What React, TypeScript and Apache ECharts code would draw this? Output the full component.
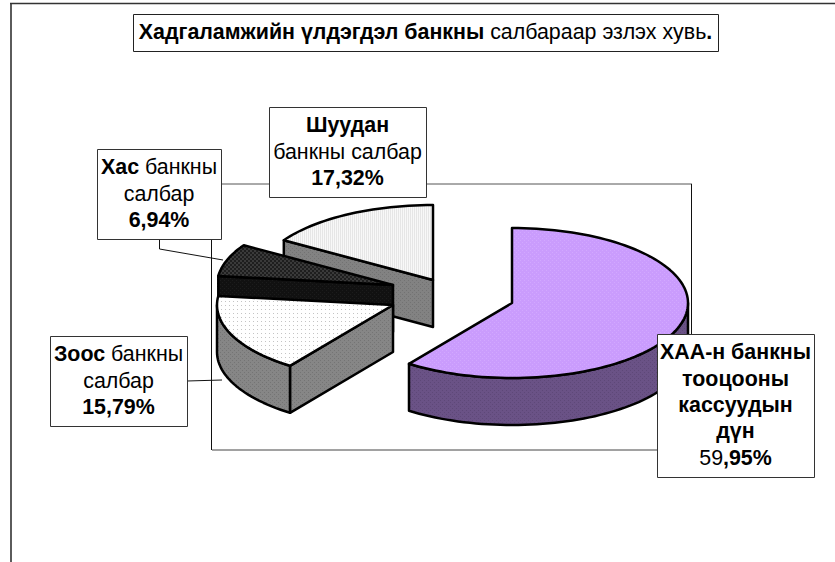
import React, { useEffect, useRef } from "react";
import * as echarts from "echarts";

// ---- data ----
const sliceNames = ["ХАА-н банкны тооцооны кассуудын дүн", "Зоос банкны салбар", "Хас банкны салбар", "Шуудан банкны салбар"];
const sliceValues = [59.95, 15.79, 6.94, 17.32];
const titleText = "{b|Хадгаламжийн үлдэгдэл банкны} {r|салбараар эзлэх хувь}{b|.}";
const labelTexts = [
  "{b|ХАА-н банкны}\n{b|тооцооны}\n{b|кассуудын}\n{b|дүн}\n{r|59}{b|,95%}",
  "{b|Зоос} {r|банкны}\n{r|салбар}\n{b|15,79%}",
  "{b|Хас} {r|банкны}\n{r|салбар}\n{b|6,94%}",
  "{b|Шуудан}\n{r|банкны салбар}\n{b|17,32%}",
];

// ---- layout ----
const RX = 176;
const RY = 75;
const DEPTH = 47;
const explodedCenters = [[512, 303], [393, 305], [393, 285], [433, 280]];
const labelBoxes = [[657, 334, 157, 143], [50, 336, 137, 90], [97, 149, 124, 90], [269, 107, 157, 90]];
const FONT = "Liberation Sans";
const FONT_SIZE = 21.4;

function patternFill(bg: string, fg: string, size: number, cells: number[][]) {
  const c = document.createElement("canvas");
  c.width = size;
  c.height = size;
  const ctx = c.getContext("2d")!;
  ctx.fillStyle = bg;
  ctx.fillRect(0, 0, size, size);
  ctx.fillStyle = fg;
  cells.forEach(([x, y, w, h]) => ctx.fillRect(x, y, w, h));
  return { image: c.toDataURL(), repeat: "repeat", imageWidth: size, imageHeight: size };
}

// the tilted view of the original squeezes the rear-left of the pie a little
function viewAngle(t: number) {
  const from = 215.8;
  if (t <= from || t >= 360) return t;
  return t + 4.5 * Math.sin((Math.PI * (t - from)) / (360 - from));
}

export default function App() {
  const ref = useRef<HTMLDivElement>(null);
  useEffect(() => {
    document.body.style.margin = "0";
    const chart = echarts.init(ref.current!, null, { renderer: "svg" });
    const dots = [[0, 0, 1, 1], [2, 2, 1, 1]];
    const tops = [
      patternFill("#CA9CFD", "#D2A8FF", 4, dots),
      patternFill("#FFFFFF", "#C4C4C4", 4, [[1, 1, 1, 1]]),
      patternFill("#1E1E1E", "#3A3A3A", 4, [[0, 0, 2, 2], [2, 2, 2, 2]]),
      patternFill("#F8F8F8", "#E6E6E6", 2, [[0, 0, 1, 2]]),
    ];
    const sides = [
      patternFill("#6A5286", "#5E4878", 4, dots),
      patternFill("#868686", "#747474", 4, dots),
      patternFill("#111111", "#1C1C1C", 4, dots),
      patternFill("#828282", "#727272", 4, dots),
    ];

    const total = sliceValues.reduce((a, b) => a + b, 0);
    const starts: number[] = [];
    sliceValues.reduce((acc, v, i) => {
      starts[i] = acc;
      return acc + (v / total) * 360;
    }, 0);

    const renderItem = (_p: any, api: any) => {
      const i = api.value(1);
      const a = viewAngle(starts[i]);
      const b = viewAngle(starts[i] + (api.value(0) / total) * 360);
      const [cx, cy] = explodedCenters[i];
      const pt = (deg: number, dy = 0) => {
        const r = (deg * Math.PI) / 180;
        return [cx + RX * Math.sin(r), cy - RY * Math.cos(r) + dy];
      };
      const arc = (from: number, to: number, dy = 0) => {
        const out: number[][] = [];
        const n = Math.max(2, Math.ceil(Math.abs(to - from) / 2));
        for (let k = 0; k <= n; k++) out.push(pt(from + ((to - from) * k) / n, dy));
        return out;
      };
      const line = { stroke: "#000", lineWidth: 2.5, lineJoin: "round" };
      const children: any[] = [];
      if (a > 180 && a < 360) {
        const e = pt(a);
        children.push({
          type: "polygon",
          shape: { points: [[cx, cy], e, [e[0], e[1] + DEPTH], [cx, cy + DEPTH]] },
          style: { fill: sides[i], ...line },
        });
      }
      const s0 = Math.max(a, 90);
      const s1 = Math.min(b, 270);
      if (s1 > s0) {
        children.push({
          type: "polygon",
          shape: { points: [...arc(s0, s1), ...arc(s1, s0, DEPTH)] },
          style: { fill: sides[i], ...line },
        });
      }
      children.push({
        type: "polygon",
        shape: { points: [[cx, cy], ...arc(a, b)] },
        style: { fill: tops[i], ...line },
      });
      return { type: "group", children };
    };

    const drawOrder = sliceValues.map((v, i) => ({ name: sliceNames[i], value: [v, i] })).reverse();

    const richStyles = (size: number) => ({
      b: { fontFamily: FONT, fontSize: size, fontWeight: "bold", fill: "#000", lineHeight: 26.4 },
      r: { fontFamily: FONT, fontSize: size, fontWeight: "normal", fill: "#000", lineHeight: 26.4 },
    });
    const seg = (x1: number, y1: number, x2: number, y2: number, stroke = "#222", lineWidth = 1) => ({
      type: "line",
      z: 1,
      shape: { x1, y1, x2, y2 },
      style: { stroke, lineWidth },
    });

    const graphic: any[] = [
      seg(10, 3.5, 835, 3.5, "#333", 1.6),
      seg(11, 3, 11, 562, "#333", 1.6),
      seg(221, 184, 692, 184, "#555", 1),
      seg(691.5, 184, 691.5, 340, "#111", 1),
      seg(212, 450, 660, 450, "#444", 1),
      seg(211.5, 238, 211.5, 450, "#111", 1),
      seg(159.5, 239, 159.5, 249, "#111", 1),
      seg(159.5, 249, 223, 260, "#111", 1),
      seg(187, 381, 222, 380, "#111", 1),
      {
        type: "rect",
        z: 10,
        shape: { x: 133.5, y: 14.5, width: 585, height: 37 },
        style: { fill: "#fff", stroke: "#222", lineWidth: 1 },
      },
      {
        type: "text",
        z: 11,
        x: 425.5,
        y: 32,
        style: {
          text: titleText,
          rich: richStyles(FONT_SIZE),
          font: `${FONT_SIZE}px "${FONT}"`,
          fill: "#000",
          align: "center",
          verticalAlign: "middle",
        },
      },
    ];
    labelBoxes.forEach(([x, y, w, h], i) => {
      graphic.push({
        type: "rect",
        z: 10,
        shape: { x: x + 0.5, y: y + 0.5, width: w, height: h },
        style: { fill: "#fff", stroke: "#333", lineWidth: 1 },
      });
      graphic.push({
        type: "text",
        z: 11,
        x: x + w / 2,
        y: y + h / 2 - 0.5,
        style: {
          text: labelTexts[i],
          rich: richStyles(FONT_SIZE),
          font: `${FONT_SIZE}px "${FONT}"`,
          fill: "#000",
          align: "center",
          verticalAlign: "middle",
        },
      });
    });

    chart.setOption({
      animation: false,
      backgroundColor: "#fff",
      graphic: { elements: graphic },
      series: [
        {
          type: "custom",
          coordinateSystem: "none",
          z: 5,
          renderItem,
          data: drawOrder,
          silent: true,
        },
      ],
    });
    return () => chart.dispose();
  }, []);
  return <div ref={ref} style={{ position: "fixed", left: 0, top: 0, width: 835, height: 562 }} />;
}
